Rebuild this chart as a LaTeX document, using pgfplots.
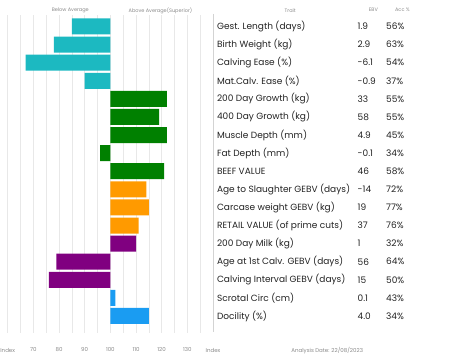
\documentclass[border=0pt]{standalone}
\usepackage{pgfplots}
\usepackage{pgfplotstable}
\pgfplotsset{compat=1.18}
\usepackage{fontspec}
\setmainfont{Poppins}
\definecolor{cteal}{HTML}{1CB9C1}
\definecolor{cgreen}{HTML}{008000}
\definecolor{corange}{HTML}{FF9A00}
\definecolor{cpurple}{HTML}{800080}
\definecolor{cblue}{HTML}{1A9CF2}
\definecolor{gridc}{HTML}{E8E8E8}
\definecolor{txt}{HTML}{222222}
\definecolor{lab}{HTML}{8A8A8A}

\pgfplotstableread{
row idx
1 85
2 78
3 67
4 90
}\tealdata
\pgfplotstableread{
row idx
5 122
6 119
7 122
8 96
9 121
}\greendata
\pgfplotstableread{
row idx
10 114
11 115
12 111
}\orangedata
\pgfplotstableread{
row idx
13 110
14 79
15 76
}\purpledata
\pgfplotstableread{
row idx
16 102
17 115
}\bluedata

\newcommand{\trow}[4]{%
  \node[anchor=west, text=txt, font=\fontsize{9}{10}\selectfont, inner sep=0pt] at (axis cs:41.5,#1) {#2};
  \node[anchor=west, text=txt, font=\fontsize{9}{10}\selectfont, inner sep=0pt] at (axis cs:96.3,#1) {#3};
  \node[anchor=west, text=txt, font=\fontsize{9}{10}\selectfont, inner sep=0pt] at (axis cs:107.4,#1) {#4};
}

\begin{document}
\begin{tikzpicture}
\useasboundingbox (0,0) rectangle (453pt,362pt);
\begin{axis}[at={(0pt,29pt)}, anchor=south west, scale only axis,
  width=213pt, height=318pt,
  xmin=-43, xmax=40, ymin=0.365, ymax=17.94, y dir=reverse, clip=false,
  xbar, bar width=16pt, bar shift=0pt,
  axis line style={draw=none}, ytick=\empty,
  xtick={-30,-20,...,30}, xticklabels={70,80,90,100,110,120,130},
  minor xtick={-40,-35,...,35}, xminorgrids, minor grid style={gridc, line width=0.6pt},
  major tick length=0, minor tick length=0,
  xticklabel style={font=\fontsize{5.5}{6}\selectfont, text=lab, yshift=-11pt},
  /pgf/number format/assume math mode=true,
]
\draw[gridc!80!gray, line width=0.6pt] (axis cs:40.2,0.3) -- (axis cs:40.2,17.9);
\addplot[fill=cteal, draw=none] table[y=row, x expr=\thisrow{idx}-100] {\tealdata};
\addplot[fill=cgreen, draw=none] table[y=row, x expr=\thisrow{idx}-100] {\greendata};
\addplot[fill=corange, draw=none] table[y=row, x expr=\thisrow{idx}-100] {\orangedata};
\addplot[fill=cpurple, draw=none] table[y=row, x expr=\thisrow{idx}-100] {\purpledata};
\addplot[fill=cblue, draw=none] table[y=row, x expr=\thisrow{idx}-100] {\bluedata};

\node[text=lab, font=\fontsize{5}{6}\selectfont] at (axis cs:-15.6,0.13) {Below Average};
\node[text=lab, font=\fontsize{5}{6}\selectfont] at (axis cs:19.5,0.13) {Above Average(Superior)};
\node[text=lab, font=\fontsize{5}{6}\selectfont] at (axis cs:70.1,0.1) {Trait};
\node[text=lab, font=\fontsize{5}{6}\selectfont] at (axis cs:102.5,0.1) {EBV};
\node[text=lab, font=\fontsize{5}{6}\selectfont] at (axis cs:113.8,0.1) {Acc \%};

\node[text=lab, font=\fontsize{5.5}{6}\selectfont] at (axis cs:-40,18.9) {Index};
\node[text=lab, font=\fontsize{5.5}{6}\selectfont] at (axis cs:40,18.9) {Index};
\node[text=lab, font=\fontsize{5.5}{6}\selectfont] at (axis cs:84.5,18.9) {Analysis Date: 22/08/2023};

\trow{1}{Gest. Length (days)}{1.9}{56\%}
\trow{2}{Birth Weight (kg)}{2.9}{63\%}
\trow{3}{Calving Ease (\%)}{-6.1}{54\%}
\trow{4}{Mat.Calv. Ease (\%)}{-0.9}{37\%}
\trow{5}{200 Day Growth (kg)}{33}{55\%}
\trow{6}{400 Day Growth (kg)}{58}{55\%}
\trow{7}{Muscle Depth (mm)}{4.9}{45\%}
\trow{8}{Fat Depth (mm)}{-0.1}{34\%}
\trow{9}{BEEF VALUE}{46}{58\%}
\trow{10}{Age to Slaughter GEBV (days)}{-14}{72\%}
\trow{11}{Carcase weight GEBV (kg)}{19}{77\%}
\trow{12}{RETAIL VALUE (of prime cuts)}{37}{76\%}
\trow{13}{200 Day Milk (kg)}{1}{32\%}
\trow{14}{Age at 1st Calv. GEBV (days)}{56}{64\%}
\trow{15}{Calving Interval GEBV (days)}{15}{50\%}
\trow{16}{Scrotal Circ (cm)}{0.1}{43\%}
\trow{17}{Docility (\%)}{4.0}{34\%}
\end{axis}
\end{tikzpicture}
\end{document}
